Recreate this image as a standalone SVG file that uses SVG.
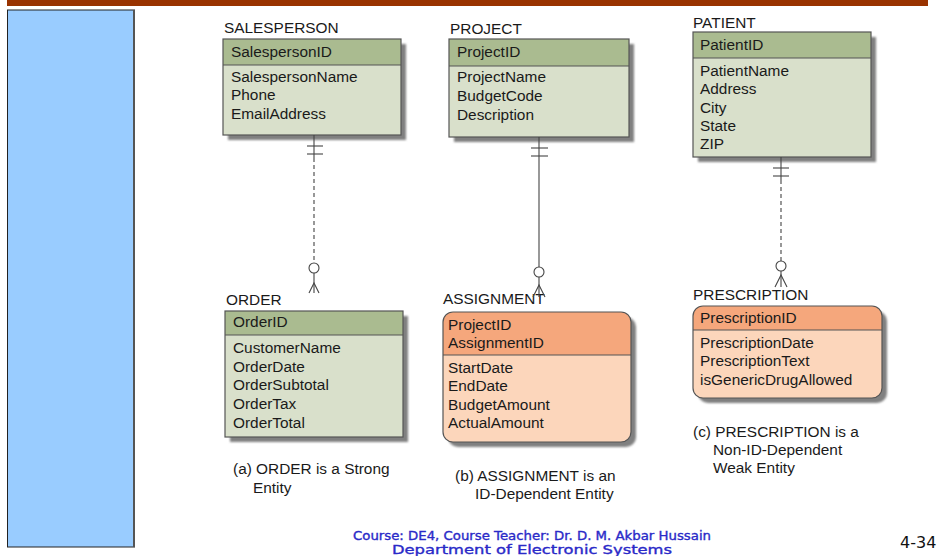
<svg xmlns="http://www.w3.org/2000/svg" width="938" height="556" viewBox="0 0 938 556">
  <defs>
    <filter id="soft" x="-5%" y="-5%" width="110%" height="110%">
      <feGaussianBlur stdDeviation="1"/>
    </filter>
    <style>
      .t { font-family: "Liberation Sans", Arial, sans-serif; font-size: 15.4px; fill: #1a1a1a; }
      .shadow { fill: #808080; filter: url(#soft); }
      .g-body { fill: #d9e0cb; }
      .g-head { fill: #aabb90; }
      .o-body { fill: #fcd6bb; }
      .o-head { fill: #f5a77c; }
      .frame { fill: none; stroke: #555; stroke-width: 1.2; }
      .div { stroke: #555; stroke-width: 1.2; }
      .conn { stroke: #444; stroke-width: 1.1; fill: none; }
      .dash { stroke-dasharray: 4 3; }
      .knob { fill: #fff; stroke: #444; stroke-width: 1.1; }
      .foot { font-family: "DejaVu Sans", "Liberation Sans", sans-serif; font-size: 12px; fill: #2a2ac8; stroke: #2a2ac8; stroke-width: 0.35; }
    </style>
  </defs>

  <rect width="938" height="556" fill="#fff"/>

  <!-- title bar and side panel -->
  <rect x="7" y="0" width="921" height="6" fill="#993300"/>
  <rect x="7.5" y="10" width="127" height="537" fill="#99ccff" stroke="#222" stroke-width="1"/>
  <line x1="134" y1="10" x2="134" y2="547" stroke="#555" stroke-width="2"/>

  <!-- SALESPERSON -->
  <g id="salesperson">
    <text class="t" x="224" y="33">SALESPERSON</text>
    <rect class="shadow" x="228" y="44" width="178" height="96"/>
    <rect class="g-body" x="223" y="39" width="178" height="96"/>
    <rect class="g-head" x="223" y="39" width="178" height="26"/>
    <line class="div" x1="223" y1="65" x2="401" y2="65"/>
    <rect class="frame" x="223" y="39" width="178" height="96"/>
    <text class="t" x="231" y="57">SalespersonID</text>
    <text class="t" x="231" y="82">SalespersonName</text>
    <text class="t" x="231" y="100">Phone</text>
    <text class="t" x="231" y="119">EmailAddress</text>
  </g>

  <!-- PROJECT -->
  <g id="project">
    <text class="t" x="450" y="34">PROJECT</text>
    <rect class="shadow" x="454" y="44" width="180" height="98"/>
    <rect class="g-body" x="449" y="39" width="180" height="98"/>
    <rect class="g-head" x="449" y="39" width="180" height="27"/>
    <line class="div" x1="449" y1="66" x2="629" y2="66"/>
    <rect class="frame" x="449" y="39" width="180" height="98"/>
    <text class="t" x="457" y="57">ProjectID</text>
    <text class="t" x="457" y="82">ProjectName</text>
    <text class="t" x="457" y="101">BudgetCode</text>
    <text class="t" x="457" y="120">Description</text>
  </g>

  <!-- PATIENT -->
  <g id="patient">
    <text class="t" x="693" y="28">PATIENT</text>
    <rect class="shadow" x="698" y="37" width="178" height="125"/>
    <rect class="g-body" x="693" y="32" width="178" height="125"/>
    <rect class="g-head" x="693" y="32" width="178" height="26"/>
    <line class="div" x1="693" y1="58" x2="871" y2="58"/>
    <rect class="frame" x="693" y="32" width="178" height="125"/>
    <text class="t" x="700" y="50">PatientID</text>
    <text class="t" x="700" y="76">PatientName</text>
    <text class="t" x="700" y="94">Address</text>
    <text class="t" x="700" y="113">City</text>
    <text class="t" x="700" y="131">State</text>
    <text class="t" x="700" y="149">ZIP</text>
  </g>

  <!-- ORDER -->
  <g id="order">
    <text class="t" x="226" y="305">ORDER</text>
    <rect class="shadow" x="230" y="316" width="178" height="126"/>
    <rect class="g-body" x="225" y="311" width="178" height="126"/>
    <rect class="g-head" x="225" y="311" width="178" height="24"/>
    <line class="div" x1="225" y1="335" x2="403" y2="335"/>
    <rect class="frame" x="225" y="311" width="178" height="126"/>
    <text class="t" x="233" y="327">OrderID</text>
    <text class="t" x="233" y="353">CustomerName</text>
    <text class="t" x="233" y="372">OrderDate</text>
    <text class="t" x="233" y="390">OrderSubtotal</text>
    <text class="t" x="233" y="409">OrderTax</text>
    <text class="t" x="233" y="428">OrderTotal</text>
  </g>

  <!-- ASSIGNMENT -->
  <g id="assignment">
    <text class="t" x="443" y="304">ASSIGNMENT</text>
    <rect class="shadow" x="448" y="317" width="188" height="130" rx="10"/>
    <rect class="o-body" x="443" y="312" width="188" height="130" rx="10"/>
    <path class="o-head" d="M443,355 V322 A10,10 0 0 1 453,312 H621 A10,10 0 0 1 631,322 V355 Z"/>
    <line class="div" x1="443" y1="355" x2="631" y2="355"/>
    <rect class="frame" x="443" y="312" width="188" height="130" rx="10"/>
    <text class="t" x="448" y="330">ProjectID</text>
    <text class="t" x="448" y="348">AssignmentID</text>
    <text class="t" x="448" y="373">StartDate</text>
    <text class="t" x="448" y="391">EndDate</text>
    <text class="t" x="448" y="410">BudgetAmount</text>
    <text class="t" x="448" y="428">ActualAmount</text>
  </g>

  <!-- PRESCRIPTION -->
  <g id="prescription">
    <text class="t" x="693" y="300">PRESCRIPTION</text>
    <rect class="shadow" x="698" y="311" width="189" height="92" rx="10"/>
    <rect class="o-body" x="693" y="306" width="189" height="92" rx="10"/>
    <path class="o-head" d="M693,330 V316 A10,10 0 0 1 703,306 H872 A10,10 0 0 1 882,316 V330 Z"/>
    <line class="div" x1="693" y1="330" x2="882" y2="330"/>
    <rect class="frame" x="693" y="306" width="189" height="92" rx="10"/>
    <text class="t" x="700" y="323">PrescriptionID</text>
    <text class="t" x="700" y="348">PrescriptionDate</text>
    <text class="t" x="700" y="366">PrescriptionText</text>
    <text class="t" x="700" y="385">isGenericDrugAllowed</text>
  </g>

  <!-- relationships -->
  <g id="connectors">
    <!-- SALESPERSON to ORDER: non-identifying, dashed -->
    <line class="conn" x1="314" y1="135" x2="314" y2="158"/>
    <line class="conn dash" x1="314" y1="158" x2="314" y2="263"/>
    <line class="conn" x1="307" y1="146" x2="323" y2="146"/>
    <line class="conn" x1="307" y1="154" x2="323" y2="154"/>
    <circle class="knob" cx="314" cy="268" r="5"/>
    <line class="conn" x1="314" y1="273" x2="314" y2="293"/>
    <path class="conn" d="M309,293 L314,283 L319,293"/>

    <!-- PROJECT to ASSIGNMENT: identifying, solid -->
    <line class="conn" x1="539" y1="137" x2="539" y2="267"/>
    <line class="conn" x1="531" y1="148" x2="548" y2="148"/>
    <line class="conn" x1="531" y1="156" x2="548" y2="156"/>
    <circle class="knob" cx="539" cy="272" r="5"/>
    <line class="conn" x1="539" y1="277" x2="539" y2="297"/>
    <path class="conn" d="M533,297 L539,285 L545,297"/>

    <!-- PATIENT to PRESCRIPTION: non-identifying, dashed -->
    <line class="conn" x1="781" y1="157" x2="781" y2="180"/>
    <line class="conn dash" x1="781" y1="180" x2="781" y2="261"/>
    <line class="conn" x1="773" y1="168" x2="789" y2="168"/>
    <line class="conn" x1="773" y1="176" x2="789" y2="176"/>
    <circle class="knob" cx="781" cy="266" r="5"/>
    <line class="conn" x1="781" y1="271" x2="781" y2="287"/>
    <path class="conn" d="M775,287 L781,275 L787,287"/>
  </g>

  <!-- captions -->
  <text class="t" x="233" y="474">(a) ORDER is a Strong</text>
  <text class="t" x="253" y="493">Entity</text>
  <text class="t" x="455" y="481">(b) ASSIGNMENT is an</text>
  <text class="t" x="475" y="499">ID-Dependent Entity</text>
  <text class="t" x="693" y="437">(c) PRESCRIPTION is a</text>
  <text class="t" x="713" y="455">Non-ID-Dependent</text>
  <text class="t" x="713" y="473">Weak Entity</text>

  <!-- footer -->
  <text class="foot" x="532" y="540" text-anchor="middle" textLength="358" lengthAdjust="spacingAndGlyphs">Course: DE4, Course Teacher:  Dr. D. M. Akbar Hussain</text>
  <text class="foot" x="532" y="554" text-anchor="middle" textLength="280" lengthAdjust="spacingAndGlyphs">Department of Electronic Systems</text>
  <text x="900" y="548" font-family="DejaVu Sans, sans-serif" font-size="16" fill="#111">4-34</text>
</svg>
